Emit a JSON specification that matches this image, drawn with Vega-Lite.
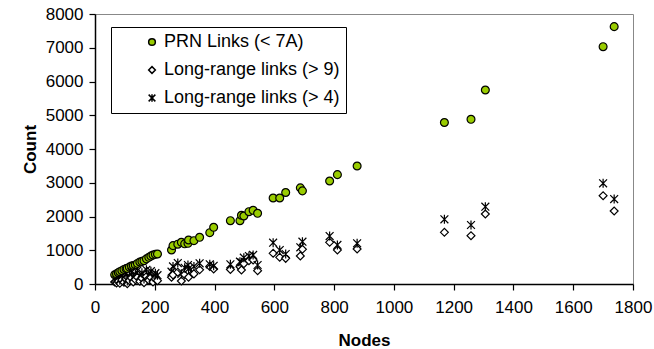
{
  "$schema": "https://vega.github.io/schema/vega-lite/v6.json",
  "autosize": {"type": "none"},
  "width": 538,
  "height": 270,
  "padding": {"left": 95, "top": 14, "right": 21, "bottom": 65},
  "background": "white",
  "config": {
    "font": "Liberation Sans",
    "view": {"stroke": "#888888", "strokeWidth": 1},
    "axis": {
      "grid": false,
      "domainColor": "black",
      "domainWidth": 1.5,
      "tickColor": "black",
      "tickWidth": 1.2,
      "tickSize": 6,
      "labelColor": "black",
      "labelFontSize": 17,
      "labelFont": "Liberation Sans",
      "labelOverlap": false,
      "labelFlush": false,
      "format": "d",
      "titleFont": "Liberation Sans",
      "titleFontSize": 17,
      "titleFontWeight": "bold",
      "titleColor": "black"
    },
    "legend": {
      "title": null,
      "orient": "none",
      "legendX": 16,
      "legendY": 13,
      "padding": 6,
      "symbolOffset": 26,
      "strokeColor": "black",
      "fillColor": "white",
      "labelFontSize": 18,
      "labelFont": "Liberation Sans",
      "labelColor": "black",
      "labelLimit": 400,
      "symbolSize": 45,
      "rowPadding": 10,
      "labelOffset": 3
    }
  },
  "data": {
    "values": [
      {"nodes": 66, "prn": 276, "lr9": 60, "lr4": 160},
      {"nodes": 72, "prn": 300, "lr9": 30, "lr4": 120},
      {"nodes": 78, "prn": 335, "lr9": 90, "lr4": 200},
      {"nodes": 83, "prn": 365, "lr9": 20, "lr4": 110},
      {"nodes": 90, "prn": 395, "lr9": 120, "lr4": 260},
      {"nodes": 97, "prn": 432, "lr9": 50, "lr4": 180},
      {"nodes": 104, "prn": 455, "lr9": 150, "lr4": 300},
      {"nodes": 108, "prn": 464, "lr9": 10, "lr4": 90},
      {"nodes": 115, "prn": 500, "lr9": 100, "lr4": 230},
      {"nodes": 122, "prn": 533, "lr9": 180, "lr4": 350},
      {"nodes": 128, "prn": 548, "lr9": 60, "lr4": 200},
      {"nodes": 135, "prn": 563, "lr9": 130, "lr4": 280},
      {"nodes": 142, "prn": 610, "lr9": 200, "lr4": 400},
      {"nodes": 150, "prn": 652, "lr9": 80, "lr4": 240},
      {"nodes": 157, "prn": 670, "lr9": 170, "lr4": 330},
      {"nodes": 164, "prn": 691, "lr9": 40, "lr4": 150},
      {"nodes": 172, "prn": 745, "lr9": 220, "lr4": 420},
      {"nodes": 180, "prn": 790, "lr9": 110, "lr4": 280},
      {"nodes": 187, "prn": 825, "lr9": 190, "lr4": 380},
      {"nodes": 194, "prn": 859, "lr9": 60, "lr4": 210},
      {"nodes": 202, "prn": 880, "lr9": 150, "lr4": 320},
      {"nodes": 209, "prn": 889, "lr9": 100, "lr4": 260},
      {"nodes": 256, "prn": 1007, "lr9": 200, "lr4": 365},
      {"nodes": 261, "prn": 1136, "lr9": 270, "lr4": 520},
      {"nodes": 277, "prn": 1180, "lr9": 350, "lr4": 620},
      {"nodes": 289, "prn": 1235, "lr9": 90, "lr4": 300},
      {"nodes": 300, "prn": 1190, "lr9": 280, "lr4": 480},
      {"nodes": 311, "prn": 1205, "lr9": 400, "lr4": 560},
      {"nodes": 313, "prn": 1304, "lr9": 200, "lr4": 450},
      {"nodes": 331, "prn": 1284, "lr9": 300, "lr4": 520},
      {"nodes": 350, "prn": 1383, "lr9": 420, "lr4": 612},
      {"nodes": 384, "prn": 1521, "lr9": 520, "lr4": 583},
      {"nodes": 397, "prn": 1680, "lr9": 444, "lr4": 540},
      {"nodes": 453, "prn": 1876, "lr9": 430, "lr4": 583},
      {"nodes": 485, "prn": 1876, "lr9": 513, "lr4": 662},
      {"nodes": 490, "prn": 2035, "lr9": 415, "lr4": 642},
      {"nodes": 498, "prn": 2015, "lr9": 600, "lr4": 780},
      {"nodes": 515, "prn": 2143, "lr9": 690, "lr4": 830},
      {"nodes": 529, "prn": 2183, "lr9": 711, "lr4": 860},
      {"nodes": 544, "prn": 2094, "lr9": 395, "lr4": 563},
      {"nodes": 596, "prn": 2548, "lr9": 909, "lr4": 1225},
      {"nodes": 618, "prn": 2548, "lr9": 790, "lr4": 1007},
      {"nodes": 638, "prn": 2711, "lr9": 760, "lr4": 889},
      {"nodes": 687, "prn": 2849, "lr9": 830, "lr4": 1087},
      {"nodes": 694, "prn": 2760, "lr9": 1027, "lr4": 1254},
      {"nodes": 785, "prn": 3052, "lr9": 1235, "lr4": 1420},
      {"nodes": 811, "prn": 3240, "lr9": 1007, "lr4": 1156},
      {"nodes": 877, "prn": 3496, "lr9": 1037, "lr4": 1205},
      {"nodes": 1169, "prn": 4785, "lr9": 1531, "lr4": 1916},
      {"nodes": 1258, "prn": 4880, "lr9": 1432, "lr4": 1748},
      {"nodes": 1306, "prn": 5748, "lr9": 2074, "lr4": 2291},
      {"nodes": 1700, "prn": 7032, "lr9": 2617, "lr4": 2983},
      {"nodes": 1737, "prn": 7625, "lr9": 2163, "lr4": 2518}
    ]
  },
  "transform": [
    {"fold": ["lr9", "lr4", "prn"], "as": ["series", "count"]}
  ],
  "mark": {"type": "point", "filled": true, "stroke": "black", "strokeWidth": 1.2, "size": 62, "opacity": 1},
  "encoding": {
    "x": {
      "field": "nodes",
      "type": "quantitative",
      "scale": {"domain": [0, 1800], "nice": false},
      "axis": {"values": [0, 200, 400, 600, 800, 1000, 1200, 1400, 1600, 1800], "title": "Nodes", "labelPadding": 9, "titleY": 61, "titleBaseline": "alphabetic"}
    },
    "y": {
      "field": "count",
      "type": "quantitative",
      "scale": {"domain": [0, 8000], "nice": false},
      "axis": {"values": [0, 1000, 2000, 3000, 4000, 5000, 6000, 7000, 8000], "title": "Count", "labelPadding": 6, "titleX": -60, "titleBaseline": "alphabetic"}
    },
    "shape": {
      "field": "series",
      "type": "nominal",
      "scale": {
        "domain": ["prn", "lr9", "lr4"],
        "range": ["circle", "diamond", "M-1,-1L1,1M-1,1L1,-1M0,-1.15L0,1.15"]
      },
      "legend": {
        "labelExpr": "datum.value == 'prn' ? 'PRN Links (< 7A)' : datum.value == 'lr9' ? 'Long-range links (> 9)' : 'Long-range links (> 4)'",
        "encode": {
          "symbols": {"update": {"stroke": {"value": "black"}, "strokeWidth": {"value": 1.2}, "opacity": {"value": 1}}}
        }
      }
    },
    "fill": {
      "field": "series",
      "type": "nominal",
      "scale": {"domain": ["prn", "lr9", "lr4"], "range": ["#99CC00", "white", "transparent"]},
      "legend": {
        "labelExpr": "datum.value == 'prn' ? 'PRN Links (< 7A)' : datum.value == 'lr9' ? 'Long-range links (> 9)' : 'Long-range links (> 4)'",
        "encode": {
          "symbols": {"update": {"stroke": {"value": "black"}, "strokeWidth": {"value": 1.2}, "opacity": {"value": 1}}}
        }
      }
    }
  }
}
